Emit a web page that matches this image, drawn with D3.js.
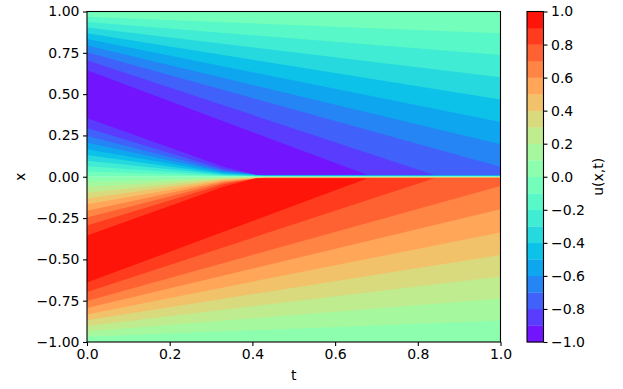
<!DOCTYPE html>
<html lang="en">
<head>
<meta charset="utf-8">
<title>u(x,t)</title>
<script src="https://d3js.org/d3.v7.min.js"></script>
<style>
  body { margin: 0; background: #fff; }
  text { font-family: "DejaVu Sans", sans-serif; fill: #000; }
</style>
</head>
<body>
<div id="chart"></div>
<script>
// contour levels, one band between each pair
var levels = [-1.0, -0.9, -0.8, -0.7, -0.6, -0.5, -0.4, -0.3, -0.2, -0.1, 0, 0.1, 0.2, 0.3, 0.4, 0.5, 0.6, 0.7, 0.8, 0.9, 1.0];
var xTicks = [0, 0.2, 0.4, 0.6, 0.8, 1.0];
var yTicks = [-1, -0.75, -0.5, -0.25, 0, 0.25, 0.5, 0.75, 1];
var cbTicks = [-1, -0.8, -0.6, -0.4, -0.2, 0, 0.2, 0.4, 0.6, 0.8, 1];

// contour lines, |u| = 0.1 ... 0.9
var upperOuterStart = [0.968, 0.936, 0.903, 0.869, 0.833, 0.795, 0.753, 0.705, 0.644];
var upperOuterEnd = [0.869, 0.737, 0.602, 0.468, 0.332, 0.197, 0.06, 0.011, 0.012];
var lowerOuterStart = [-0.968, -0.936, -0.903, -0.869, -0.833, -0.795, -0.752, -0.698, -0.64];
var lowerOuterEnd = [-0.87, -0.737, -0.604, -0.473, -0.338, -0.197, -0.056, -0.009, -0.01];
var outerEndT = [1, 1, 1, 1, 1, 1, 1, 0.84, 0.677];
var upperInnerStart = [0.032, 0.064, 0.097, 0.131, 0.167, 0.205, 0.247, 0.295, 0.355];
var lowerInnerStart = [-0.032, -0.064, -0.097, -0.131, -0.167, -0.205, -0.247, -0.295, -0.355];
// the lines bend into the thin layer around x = 0 before they merge with it
var kneeT = 0.33;
var upperKnee = [0.004, 0.008, 0.012, 0.017, 0.022, 0.029, 0.036, 0.045, 0.06];
var lowerKnee = [-0.004, -0.008, -0.012, -0.017, -0.022, -0.029, -0.036, -0.045, -0.06];
var innerMergeT = [0.43, 0.43, 0.43, 0.43, 0.43, 0.43, 0.42, 0.415, 0.41];
var upperLayer = [0.002, 0.004, 0.005, 0.0065, 0.0075, 0.009, 0.01, 0.011, 0.012];
var lowerLayer = [-0.001, -0.002, -0.003, -0.004, -0.005, -0.006, -0.007, -0.008, -0.009];

var width = 623, height = 389;
var margin = {left: 87, right: 500.5, top: 11.5, bottom: 342};
var cb = {left: 527, right: 543.5};

var svg = d3.select("#chart").append("svg")
    .attr("width", width)
    .attr("height", height)
    .style("display", "block");

var tScale = d3.scaleLinear().domain([0, 1]).range([margin.left, margin.right]);
var xScale = d3.scaleLinear().domain([-1, 1]).range([margin.bottom, margin.top]);
var cbScale = d3.scaleLinear().domain([-1, 1]).range([margin.bottom, margin.top]);

// matplotlib rainbow
function rainbow(v) {
    var r = Math.min(1, Math.abs(2 * v - 0.5));
    var g = Math.sin(Math.PI * v);
    var b = Math.cos(Math.PI * v / 2);
    return d3.rgb(r * 255, g * 255, b * 255).formatHex();
}
function bandColor(i) {
    return rainbow(((levels[i] + levels[i + 1]) / 2 + 1) / 2);
}

var line = d3.line()
    .x(function(d) { return tScale(d[0]); })
    .y(function(d) { return xScale(d[1]); });

// closed region beyond one level, drawn nested so that inner ones cover outer ones
function region(i, outerStart, outerEnd, innerStart, knee, layer) {
    var pts = [[0, outerStart[i]]];
    if (outerEndT[i] < 1) {
        pts.push([outerEndT[i], outerEnd[i]]);
    } else {
        pts.push([1, outerEnd[i]]);
        pts.push([1, layer[i]]);
    }
    pts.push([innerMergeT[i], layer[i]]);
    pts.push([kneeT, knee[i]]);
    pts.push([0, innerStart[i]]);
    return line(pts) + "Z";
}

var field = svg.append("g");

field.append("rect")
    .attr("x", tScale(0))
    .attr("y", xScale(1))
    .attr("width", tScale(1) - tScale(0))
    .attr("height", xScale(0) - xScale(1))
    .attr("fill", bandColor(9));
field.append("rect")
    .attr("x", tScale(0))
    .attr("y", xScale(0))
    .attr("width", tScale(1) - tScale(0))
    .attr("height", xScale(-1) - xScale(0))
    .attr("fill", bandColor(10));

d3.range(9).forEach(function(i) {
    field.append("path")
        .attr("d", region(i, upperOuterStart, upperOuterEnd, upperInnerStart, upperKnee, upperLayer))
        .attr("fill", bandColor(8 - i));
    field.append("path")
        .attr("d", region(i, lowerOuterStart, lowerOuterEnd, lowerInnerStart, lowerKnee, lowerLayer))
        .attr("fill", bandColor(11 + i));
});

// axes
function fmt2(d) { return d3.format(".2f")(d).replace("-", "\u2212"); }
function fmt1(d) { return d3.format(".1f")(d).replace("-", "\u2212"); }

function styleAxis(g) {
    g.selectAll("text").style("font-size", "14px").style("font-family", "'DejaVu Sans'");
    g.selectAll("line").attr("stroke", "#000").attr("stroke-width", 1.1);
    g.select(".domain").remove();
}

svg.append("g")
    .attr("transform", "translate(0," + margin.bottom + ")")
    .call(d3.axisBottom(tScale).tickValues(xTicks).tickFormat(fmt1).tickSize(4).tickPadding(3.5))
    .call(styleAxis);

svg.append("g")
    .attr("transform", "translate(" + margin.left + ",0)")
    .call(d3.axisLeft(xScale).tickValues(yTicks).tickFormat(fmt2).tickSize(4).tickPadding(3.5))
    .call(styleAxis);

svg.append("rect")
    .attr("x", margin.left)
    .attr("y", margin.top)
    .attr("width", margin.right - margin.left)
    .attr("height", margin.bottom - margin.top)
    .attr("fill", "none")
    .attr("stroke", "#000")
    .attr("stroke-width", 1.1);

svg.append("text")
    .attr("x", (margin.left + margin.right) / 2)
    .attr("y", 380)
    .attr("text-anchor", "middle")
    .style("font-size", "14px")
    .text("t");

svg.append("text")
    .attr("transform", "translate(25," + (margin.top + margin.bottom) / 2 + ") rotate(-90)")
    .attr("text-anchor", "middle")
    .style("font-size", "14px")
    .text("x");

// colorbar
svg.append("g")
    .selectAll("rect")
    .data(d3.range(levels.length - 1))
    .enter()
    .append("rect")
    .attr("x", cb.left)
    .attr("width", cb.right - cb.left)
    .attr("y", function(i) { return cbScale(levels[i + 1]); })
    .attr("height", function(i) { return cbScale(levels[i]) - cbScale(levels[i + 1]) + 0.3; })
    .attr("fill", function(i) { return bandColor(i); });

svg.append("g")
    .attr("transform", "translate(" + cb.right + ",0)")
    .call(d3.axisRight(cbScale).tickValues(cbTicks).tickFormat(fmt1).tickSize(4).tickPadding(3.5))
    .call(styleAxis);

svg.append("rect")
    .attr("x", cb.left)
    .attr("y", margin.top)
    .attr("width", cb.right - cb.left)
    .attr("height", margin.bottom - margin.top)
    .attr("fill", "none")
    .attr("stroke", "#000")
    .attr("stroke-width", 1.1);

svg.append("text")
    .attr("transform", "translate(603," + (margin.top + margin.bottom) / 2 + ") rotate(-90)")
    .attr("text-anchor", "middle")
    .style("font-size", "14px")
    .text("u(x,t)");
</script>
</body>
</html>
